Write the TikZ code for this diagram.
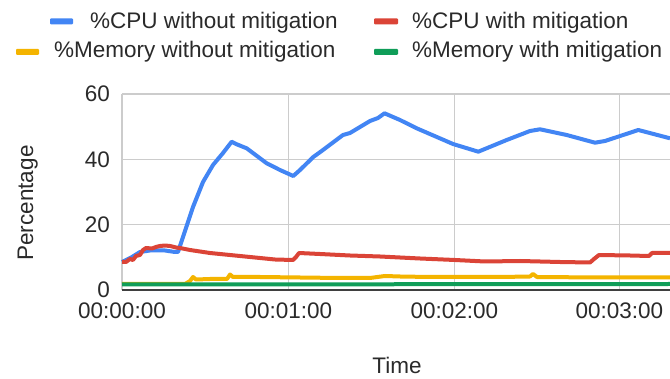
\documentclass[tikz,border=0pt]{standalone}
\usepackage{fontspec}
\setmainfont{Liberation Sans}
\definecolor{cpuoff}{HTML}{4285F4}
\definecolor{cpuon}{HTML}{DB4437}
\definecolor{memoff}{HTML}{F4B400}
\definecolor{memon}{HTML}{0F9D58}
\definecolor{gridc}{HTML}{CCCCCC}
\definecolor{inkc}{HTML}{2A2A2A}
\tikzset{
  lbl/.style={inner sep=0pt, text=inkc, font=\fontsize{22.5}{27}\selectfont},
  gridline/.style={draw=gridc, line width=1.4pt},
  series/.style={line width=4pt, line join=round},
  swatch/.style={rounded corners=1pt},
}
\begin{document}
\begin{tikzpicture}[x=1pt, y=-1pt]
\useasboundingbox (0,0) rectangle (670,379);
\fill[white] (0,0) rectangle (670,379);

% legend
\fill[swatch, cpuoff] (50,18.5) rectangle (73,24.5);
\node[lbl, anchor=base west] (lgA) at (90,29) {\%CPU without mitigation};
\fill[swatch, cpuon] (374,18.5) rectangle (398,24.5);
\node[lbl, anchor=base west] (lgB) at (412,29) {\%CPU with mitigation};
\fill[swatch, memoff] (16,49) rectangle (39,55);
\node[lbl, anchor=base west] (lgC) at (54,58) {\%Memory without mitigation};
\fill[swatch, memon] (374,49) rectangle (398,55);
\node[lbl, anchor=base west] (lgD) at (412,58) {\%Memory with mitigation};

% grid
\foreach \yy in {94,159.3,224.7}
  \draw[gridline] (122,\yy) -- (670,\yy);
\foreach \xx in {122,288.3,454.3,619.3}
  \draw[gridline] (\xx,94) -- (\xx,290);

% y tick labels
\node[lbl, anchor=base east] (y60) at (110,102) {60};
\node[lbl, anchor=base east] (y40) at (110,167.3) {40};
\node[lbl, anchor=base east] (y20) at (110,232.7) {20};
\node[lbl, anchor=base east] (y0)  at (110,298) {0};

% x tick labels
\node[lbl, anchor=base] (t0) at (122,319) {00:00:00};
\node[lbl, anchor=base] (t1) at (288.3,319) {00:01:00};
\node[lbl, anchor=base] (t2) at (454.3,319) {00:02:00};
\node[lbl, anchor=base] (t3) at (619.3,319) {00:03:00};

% axis titles
\node[lbl, anchor=base] (xt) at (397,374) {Time};
\node[lbl, anchor=base, rotate=90] (yt) at (33,203) {Percentage};

% series
\draw[series, cpuoff] (122,262) -- (132,257) -- (140,252) -- (150,250.5) -- (165,250.5)
  -- (175,252) -- (178,252) -- (183,237) -- (193,207) -- (203,182) -- (213,165) -- (223,153)
  -- (231.7,141.7) -- (236,144) -- (246.7,148.3) -- (266.7,163.3) -- (280,170)
  -- (293.3,176) -- (300,170) -- (313.3,157) -- (323,150) -- (343,135) -- (350,133)
  -- (370,121) -- (378,118) -- (384.5,113.3) -- (400,120) -- (416.7,128.3)
  -- (453,144) -- (478.3,151.7) -- (506.7,140) -- (530,131) -- (540,129.3)
  -- (566.7,135) -- (595,142.7) -- (605,141) -- (638.3,130) -- (670,138.3);

\draw[series, cpuon] (122,262) -- (126,262) -- (130,259) -- (133,260) -- (136,256)
  -- (140,255) -- (143,250) -- (146,248) -- (152,248.5) -- (156,247) -- (160,246)
  -- (165,245.5) -- (170,246) -- (176,247.5) -- (180,248) -- (190,250) -- (210,253)
  -- (240,256) -- (260,258) -- (275,259.5) -- (293,260) -- (296,257) -- (299,253)
  -- (320,254) -- (350,255.5) -- (380,256.5) -- (420,258.5) -- (455,260)
  -- (485,261.5) -- (520,261) -- (560,262) -- (590,262.5) -- (594,259) -- (599,255)
  -- (630,255.5) -- (649,256) -- (652,253) -- (670,253);

\draw[series, memoff] (122,284) -- (185,284) -- (190,281) -- (193,277) -- (196,279.5)
  -- (210,279) -- (227,279) -- (230,274.5) -- (233,277) -- (260,277) -- (300,277.5)
  -- (340,278) -- (370,278) -- (385,276) -- (400,276.5) -- (430,277) -- (500,277)
  -- (530,276.5) -- (533,274) -- (537,277) -- (600,277.5) -- (670,277.5);

\draw[series, memon] (122,284.5) -- (670,284);

% baseline
\draw[draw=inkc!90, line width=1.6pt] (122,290) -- (670,290);
\end{tikzpicture}
\end{document}
